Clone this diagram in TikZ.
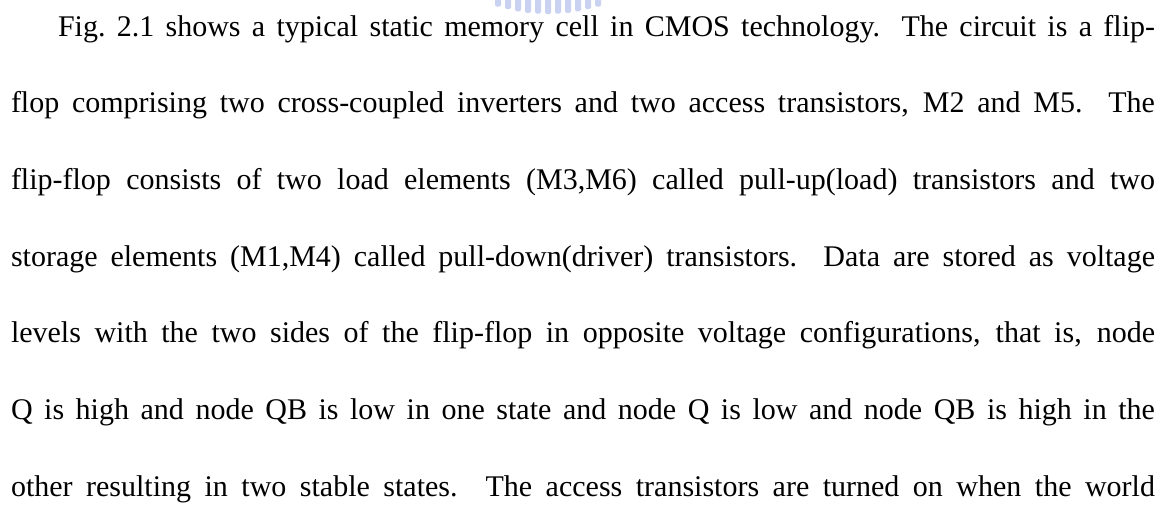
\documentclass[tikz,border=0pt]{standalone}
\usepackage{fontspec}
\setmainfont{Liberation Serif}
\definecolor{wmblue}{RGB}{150,165,228}
\begin{document}
\begin{tikzpicture}[x=1pt,y=-1pt,
  textline/.style={anchor=base west,inner sep=0pt,outer sep=0pt,font=\fontsize{30}{36}\selectfont},
  wmbar/.style={fill=wmblue,opacity=0.5,draw=none,rounded corners=1.5pt}]
\useasboundingbox (0,0) rectangle (1170,504);
% faded watermark fragment at the top
\foreach \i in {0,...,10}{
  \pgfmathsetmacro{\cx}{498+\i*10}
  \pgfmathsetmacro{\dx}{(\cx-548)/55}
  \pgfmathsetmacro{\by}{14-9*\dx*\dx}
  \fill[wmbar] (\cx-3,-3) rectangle (\cx+3,\by);
}
\node[textline] (l1) at (58,36)    {\makebox[1097pt][s]{Fig.\ 2.1 shows a typical static memory cell in CMOS technology. The circuit is a flip-}};
\node[textline] (l2) at (11,112.7) {\makebox[1144pt][s]{flop comprising two cross-coupled inverters and two access transistors, M2 and M5. The}};
\node[textline] (l3) at (11,189.4) {\makebox[1144pt][s]{flip-flop consists of two load elements (M3,M6) called pull-up(load) transistors and two}};
\node[textline] (l4) at (11,266.1) {\makebox[1144pt][s]{storage elements (M1,M4) called pull-down(driver) transistors. Data are stored as voltage}};
\node[textline] (l5) at (11,342.8) {\makebox[1144pt][s]{levels with the two sides of the flip-flop in opposite voltage configurations, that is, node}};
\node[textline] (l6) at (11,419.5) {\makebox[1144pt][s]{Q is high and node QB is low in one state and node Q is low and node QB is high in the}};
\node[textline] (l7) at (11,496)   {\makebox[1144pt][s]{other resulting in two stable states. The access transistors are turned on when the world}};
\end{tikzpicture}
\end{document}
